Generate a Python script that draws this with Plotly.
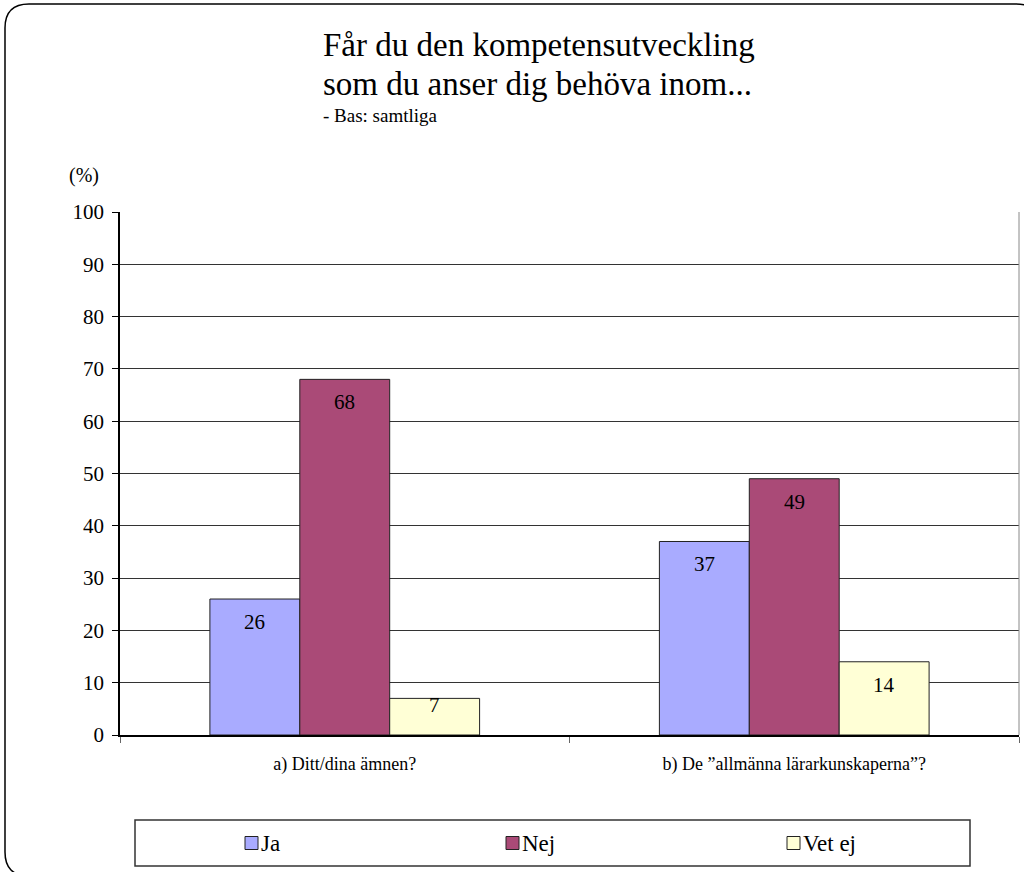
import plotly.graph_objects as go

categories = ["a) Ditt/dina ämnen?", "b) De \u201dallmänna lärarkunskaperna\u201d?"]
series_names = ["Ja", "Nej", "Vet ej"]
ja_values = [26, 37]
nej_values = [68, 49]
vetej_values = [7, 14]
series_values = [ja_values, nej_values, vetej_values]
colors = ["#A9ABFF", "#AA4A77", "#FFFFD6"]
y_ticks = [0, 10, 20, 30, 40, 50, 60, 70, 80, 90, 100]
title_lines = ["Får du den kompetensutveckling", "som du anser dig behöva inom..."]
subtitle = "- Bas: samtliga"

W, H = 1024, 872
L, R, T, B = 120, 1019, 212, 735
FONT = "'Liberation Serif', 'Times New Roman', serif"


def px(x):
    return (x - L) / (R - L)


def py(y):
    return (B - y) / (B - T)


fig = go.Figure()
for name, vals, col in zip(series_names, series_values, colors):
    fig.add_trace(go.Bar(
        x=categories, y=vals, name=name,
        marker=dict(color=col, line=dict(color="#222222", width=1)),
        showlegend=False, hoverinfo="x+y+name",
    ))

bargap = 0.4
cat_px = (R - L) / len(categories)
bar_px = cat_px * (1 - bargap) / len(series_names)
unit_px = (B - T) / 100.0
annotations = []
for i, vals in enumerate(series_values):
    for c, v in zip(categories, vals):
        h = v * unit_px
        shift = min(23, h - 30)
        annotations.append(dict(
            x=c, y=v, xref="x", yref="y", text=str(v), showarrow=False,
            xshift=(i - 1) * bar_px, yshift=-shift, yanchor="middle",
            font=dict(family=FONT, size=21, color="black"),
        ))

for line, yy in zip(title_lines, [45, 84]):
    annotations.append(dict(
        x=px(321), y=py(yy), xref="paper", yref="paper", xanchor="left", yanchor="middle",
        text=line, showarrow=False,
        font=dict(family=FONT, size=33, color="black"),
    ))
annotations.append(dict(
    x=px(321), y=py(115), xref="paper", yref="paper", xanchor="left", yanchor="middle",
    text=subtitle, showarrow=False,
    font=dict(family=FONT, size=19, color="black"),
))
annotations.append(dict(
    x=px(84), y=py(176), xref="paper", yref="paper", xanchor="center", yanchor="middle",
    text="(%)", showarrow=False,
    font=dict(family=FONT, size=20, color="black"),
))

shapes = []
x0, x1, y0, y1, r = 5, 1040, 4, 876, 24
pts = [
    ("M", x0 + r, y0), ("L", x1 - r, y0), ("Q", x1, y0, x1, y0 + r),
    ("L", x1, y1 - r), ("Q", x1, y1, x1 - r, y1), ("L", x0 + r, y1),
    ("Q", x0, y1, x0, y1 - r), ("L", x0, y0 + r), ("Q", x0, y0, x0 + r, y0),
]
path = ""
for p in pts:
    coords = p[1:]
    s = [f"{px(coords[k]):.5f},{py(coords[k+1]):.5f}" for k in range(0, len(coords), 2)]
    path += p[0] + " ".join(s) + " "
path += "Z"
shapes.append(dict(type="path", path=path, xref="paper", yref="paper",
                   line=dict(color="black", width=1.5), fillcolor="rgba(0,0,0,0)", layer="below"))
shapes.append(dict(type="line", xref="paper", yref="paper", x0=1, x1=1, y0=0, y1=1,
                   line=dict(color="#888888", width=1)))

lx0, lx1, ly0, ly1 = 135, 970, 820, 866
shapes.append(dict(type="rect", xref="paper", yref="paper",
                   x0=px(lx0), x1=px(lx1), y0=py(ly1), y1=py(ly0),
                   line=dict(color="#333333", width=1.5), fillcolor="white"))
leg_x = [245, 506, 787]
leg_y = 843
sq = 13
for name, col, lxx in zip(series_names, colors, leg_x):
    shapes.append(dict(type="rect", xref="paper", yref="paper",
                       x0=px(lxx), x1=px(lxx + sq), y0=py(leg_y + sq / 2), y1=py(leg_y - sq / 2),
                       line=dict(color="#222222", width=1), fillcolor=col))
    annotations.append(dict(
        x=px(lxx + sq + 1), y=py(leg_y), xref="paper", yref="paper",
        xanchor="left", yanchor="middle", text=name, showarrow=False,
        font=dict(family=FONT, size=23, color="black"),
    ))

fig.update_layout(
    width=W, height=H,
    margin=dict(l=L, r=W - R, t=T, b=H - B),
    paper_bgcolor="white", plot_bgcolor="white",
    barmode="group", bargap=bargap, bargroupgap=0,
    font=dict(family=FONT, color="black"),
    annotations=annotations, shapes=shapes,
    xaxis=dict(
        showgrid=False, showline=True, linecolor="black", linewidth=1.5,
        ticks="outside", ticklen=6, tickcolor="#666666", tickson="boundaries",
        tickfont=dict(family=FONT, size=18, color="black"), ticklabelstandoff=12,
        fixedrange=True,
    ),
    yaxis=dict(
        range=[0, 100], tickvals=y_ticks, showgrid=True, gridcolor="#333333", gridwidth=1,
        showline=True, linecolor="black", linewidth=1.5, zeroline=False,
        ticks="outside", ticklen=6, tickcolor="black",
        tickfont=dict(family=FONT, size=21, color="black"), ticklabelstandoff=4,
        fixedrange=True,
    ),
)

fig.write_html(
    "out.html",
    config={"displayModeBar": False},
    post_script="document.body.style.margin='0px';document.body.style.overflow='hidden';",
)
